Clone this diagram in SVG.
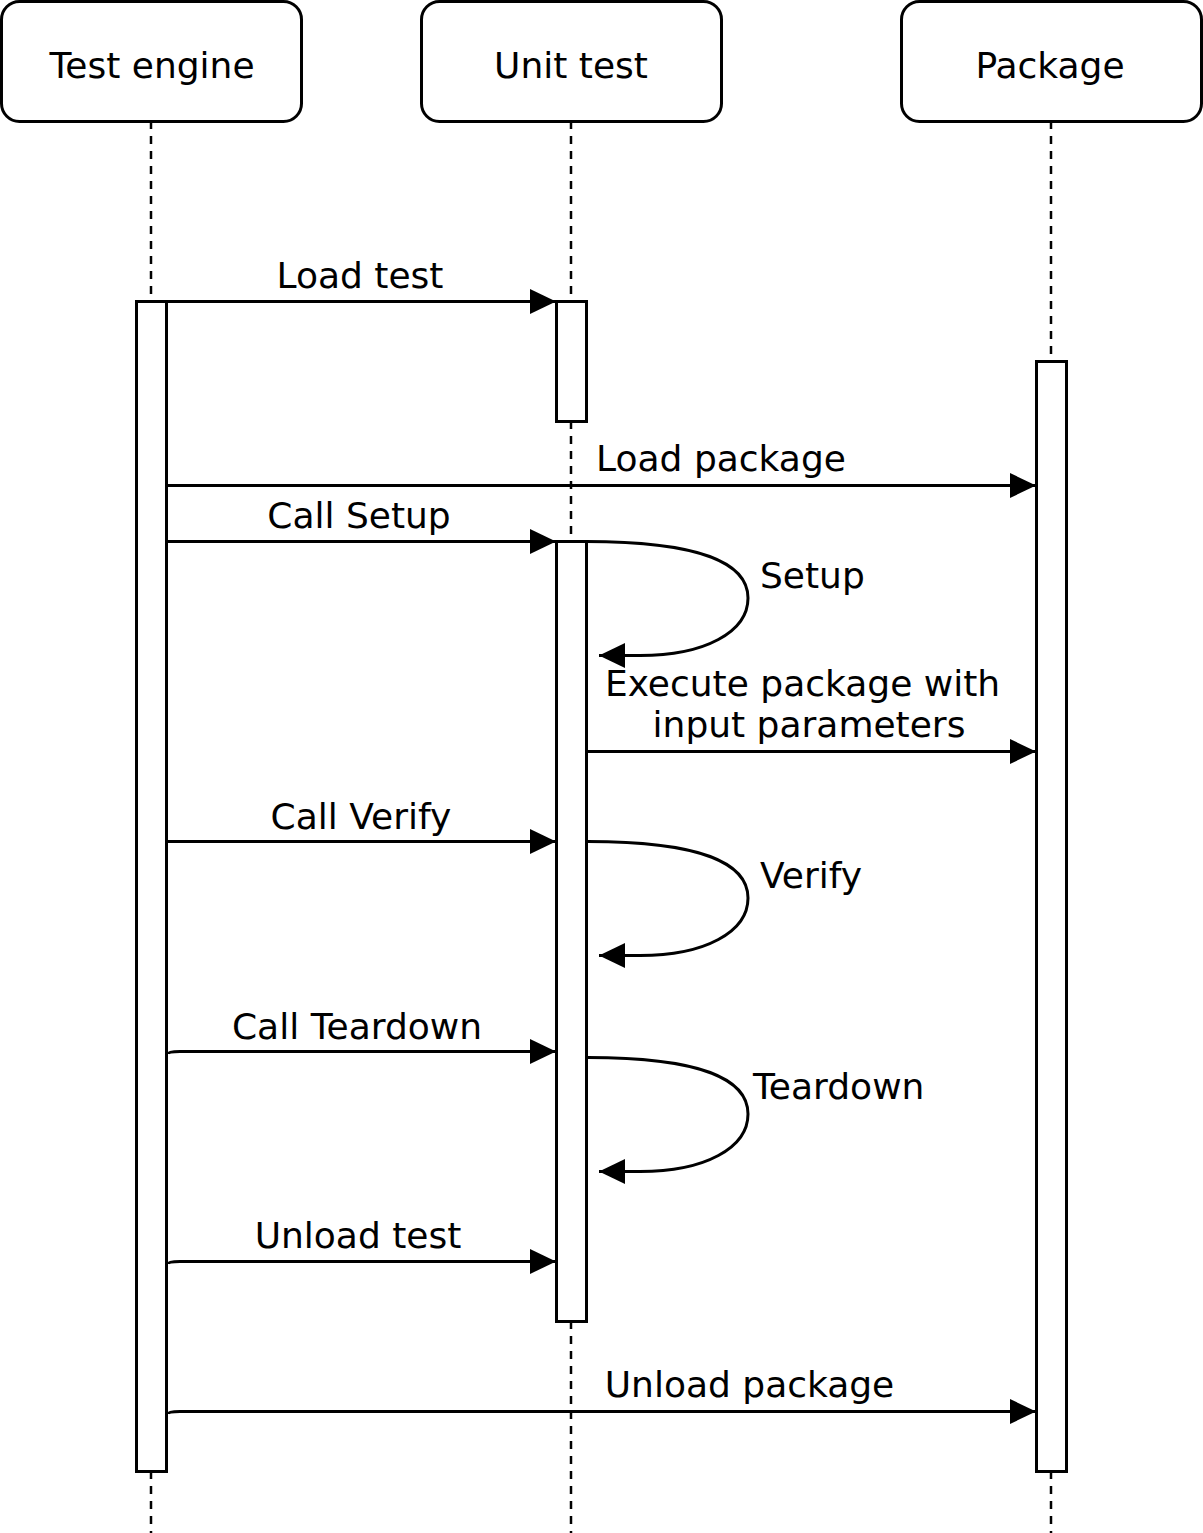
<svg xmlns="http://www.w3.org/2000/svg" width="1203" height="1533" viewBox="0 0 1203 1533">
<style>
.box{fill:#fff;stroke:#000;stroke-width:3}
.life{stroke:#000;stroke-width:2.5;stroke-dasharray:8 7;fill:none}
.bar{fill:#fff;stroke:#000;stroke-width:3}
.msg{fill:none;stroke:#000;stroke-width:3;marker-end:url(#arr)}
text{font-family:"DejaVu Sans","Liberation Sans",sans-serif;font-size:36px;fill:#000}
.c{text-anchor:middle}
</style>
<defs>
<marker id="arr" markerUnits="userSpaceOnUse" markerWidth="27" markerHeight="26" refX="26" refY="12.5" orient="auto" viewBox="0 0 27 26">
<path d="M0,0 L26,12.5 L0,25 Z" fill="#000"/>
</marker>
</defs>
<g id="lifelines">
<line class="life" x1="151" y1="121" x2="151" y2="1533"/>
<line class="life" x1="571" y1="121" x2="571" y2="1533"/>
<line class="life" x1="1051" y1="121" x2="1051" y2="1533"/>
</g>
<g id="test-engine">
<rect class="box" x="1.5" y="1.5" width="300" height="120" rx="18"/>
<text class="c" x="152" y="78">Test engine</text>
</g>
<g id="unit-test">
<rect class="box" x="421.5" y="1.5" width="300" height="120" rx="18"/>
<text class="c" x="571" y="78">Unit test</text>
</g>
<g id="package">
<rect class="box" x="901.5" y="1.5" width="300" height="120" rx="18"/>
<text class="c" x="1050" y="78">Package</text>
</g>
<g id="activations">
<rect id="act-engine" class="bar" x="136.5" y="301.5" width="30" height="1170"/>
<rect id="act-unit-1" class="bar" x="556.5" y="301.5" width="30" height="120"/>
<rect id="act-unit-2" class="bar" x="556.5" y="541.5" width="30" height="780"/>
<rect id="act-package" class="bar" x="1036.5" y="361.5" width="30" height="1110"/>
</g>
<g id="connectors">
<path class="msg" d="M166,301.5 L556,301.5"/>
<path class="msg" d="M168,485.5 L1036,485.5"/>
<path class="msg" d="M168,541.5 L556,541.5"/>
<path class="msg" d="M586,541.5 C705,541.5 748,565 748,598 C748,632 705,655.5 640,655.5 L599,655.5"/>
<path class="msg" d="M588,751.5 L1036,751.5"/>
<path class="msg" d="M168,841.5 L556,841.5"/>
<path class="msg" d="M588,841.5 C705,841.5 748,865 748,898 C748,932 705,955.5 640,955.5 L599,955.5"/>
<path class="msg" d="M168,1054 Q168,1051.5 180,1051.5 L556,1051.5"/>
<path class="msg" d="M588,1057.5 C705,1057.5 748,1081 748,1114 C748,1148 705,1171.5 640,1171.5 L599,1171.5"/>
<path class="msg" d="M168,1264 Q168,1261.5 180,1261.5 L556,1261.5"/>
<path class="msg" d="M168,1414 Q168,1411.5 180,1411.5 L1036,1411.5"/>
</g>
<g id="labels">
<text class="c" x="360" y="288">Load test</text>
<text class="c" x="721" y="471">Load package</text>
<text class="c" x="359" y="528">Call Setup</text>
<text x="760" y="588">Setup</text>
<text class="c" x="802.5" y="696">Execute package with</text>
<text class="c" x="809" y="737">input parameters</text>
<text class="c" x="361" y="829">Call Verify</text>
<text x="760" y="888">Verify</text>
<text class="c" x="357" y="1039">Call Teardown</text>
<text x="753" y="1099">Teardown</text>
<text class="c" x="358" y="1248">Unload test</text>
<text class="c" x="749.5" y="1397">Unload package</text>
</g>
</svg>
